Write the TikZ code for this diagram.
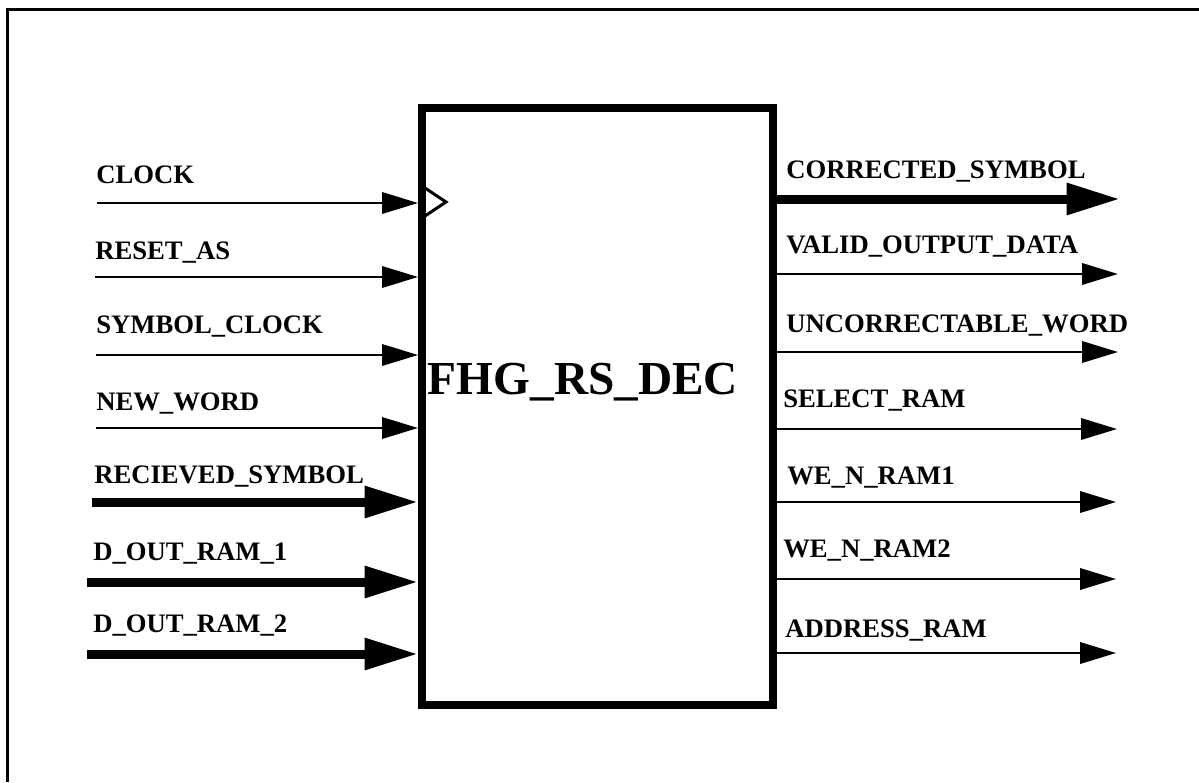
\documentclass[tikz,border=0pt]{standalone}
\usepackage{fontspec}
\setmainfont{Liberation Serif}
\usetikzlibrary{arrows.meta}

\tikzset{
  sig/.style={line width=1.9pt, -{Triangle[length=27pt,width=16pt]}},
  bus/.style={line width=6.75pt, -{Triangle[length=40pt,width=22.5pt]}},
  lbl/.style={anchor=base west, inner sep=0pt, font=\bfseries\fontsize{20}{24}\selectfont},
}

\begin{document}
\begin{tikzpicture}[x=0.75pt, y=-0.75pt]
\useasboundingbox (0,0) rectangle (1199,782);

% frame
\draw[line width=1.6pt] (7.5,782) -- (7.5,9.5) -- (1199,9.5);

% decoder block
\node[draw, line width=6pt, minimum width=263.25pt, minimum height=447.75pt,
      inner sep=0pt] (dec) at (597.5,406.5) {};
\node[anchor=base, inner sep=0pt, font=\bfseries\fontsize{35.5}{40}\selectfont]
      (title) at (583,394) {FHG\_RS\_DEC};
\draw[line width=2.25pt, line join=miter] (422,186) -- (446,202) -- (422,218);

% inputs
\foreach \i/\y/\lb/\lx/\sx/\sty/\txt in {
    1/203/183/96/97/sig/CLOCK,
    2/277/259/95/95/sig/RESET\_AS,
    3/355/333/96/96/sig/SYMBOL\_CLOCK,
    4/428/410/96/96/sig/NEW\_WORD,
    5/502/483/94/92/bus/RECIEVED\_SYMBOL,
    6/582/560/93/87/bus/D\_OUT\_RAM\_1,
    7/654/632/93/87/bus/D\_OUT\_RAM\_2} {
    \coordinate (in\i) at (\sx,\y);
    \node[lbl] (inlbl\i) at (\lx,\lb) {\txt};
    \draw[\sty] (in\i) -- (in\i -| dec.west);
}

% outputs
\foreach \i/\y/\lb/\lx/\tx/\sty/\txt in {
    1/199/178/786/1120/bus/CORRECTED\_SYMBOL,
    2/274/253/786/1118/sig/VALID\_OUTPUT\_DATA,
    3/352/332/786/1118/sig/UNCORRECTABLE\_WORD,
    4/429/407/783/1117/sig/SELECT\_RAM,
    5/502/484/787/1116/sig/WE\_N\_RAM1,
    6/579/557/783/1116/sig/WE\_N\_RAM2,
    7/653/637/785/1116/sig/ADDRESS\_RAM} {
    \coordinate (out\i) at (\tx,\y);
    \node[lbl] (outlbl\i) at (\lx,\lb) {\txt};
    \draw[\sty] (out\i -| dec.east) -- (out\i);
}
\end{tikzpicture}
\end{document}
